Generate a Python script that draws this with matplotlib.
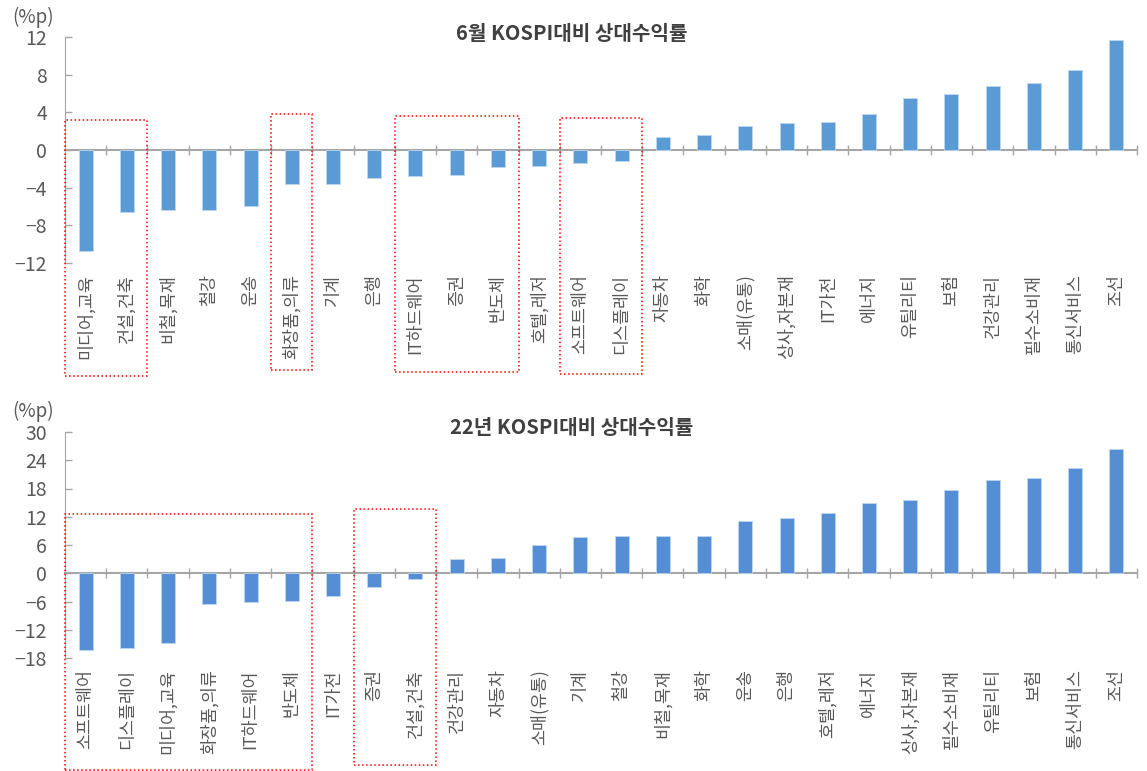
import matplotlib.pyplot as plt
from matplotlib.patches import Rectangle
from matplotlib.transforms import blended_transform_factory

plt.rcParams['font.family'] = ['Noto Sans CJK KR', 'DejaVu Sans']
plt.rcParams['axes.unicode_minus'] = True

# 6월 KOSPI 대비 상대수익률 (%p)
cats_jun = ['미디어,교육', '건설,건축', '비철,목재', '철강', '운송', '화장품,의류', '기계', '은행',
            'IT하드웨어', '증권', '반도체', '호텔,레저', '소프트웨어', '디스플레이', '자동차', '화학',
            '소매(유통)', '상사,자본재', 'IT가전', '에너지', '유틸리티', '보험', '건강관리',
            '필수소비재', '통신서비스', '조선']
vals_jun = [-10.7, -6.6, -6.4, -6.35, -5.9, -3.65, -3.65, -3.0, -2.8, -2.65, -1.8, -1.7, -1.4,
            -1.2, 1.35, 1.6, 2.5, 2.85, 3.0, 3.85, 5.5, 5.95, 6.8, 7.15, 8.45, 11.7]
yt_jun = [-12, -8, -4, 0, 4, 8, 12]

# 22년 KOSPI 대비 상대수익률 (%p)
cats_22 = ['소프트웨어', '디스플레이', '미디어,교육', '화장품,의류', 'IT하드웨어', '반도체', 'IT가전', '증권',
           '건설,건축', '건강관리', '자동차', '소매(유통)', '기계', '철강', '비철,목재', '화학', '운송',
           '은행', '호텔,레저', '에너지', '상사,자본재', '필수소비재', '유틸리티', '보험', '통신서비스', '조선']
vals_22 = [-16.4, -15.9, -14.9, -6.6, -6.1, -5.8, -4.9, -3.0, -1.3, 3.1, 3.2, 6.1, 7.8, 7.9,
           8.0, 8.0, 11.2, 11.7, 12.8, 15.0, 15.6, 17.6, 19.9, 20.3, 22.4, 26.4]
yt_22 = [-18, -12, -6, 0, 6, 12, 18, 24, 30]

# highlighted groups: (first idx, last idx, top px, bottom px)
boxes_jun = [(0, 1, 120, 376), (5, 5, 114, 370), (8, 10, 116, 372), (12, 13, 118, 374)]
boxes_22 = [(0, 5, 514, 770), (7, 8, 509, 765)]

W, H = 1147, 771
fig = plt.figure(figsize=(W / 100, H / 100), dpi=100)

gray = '#A6A6A6'
txt = '#595959'


def draw(rect, cats, vals, yticks, color, title, title_y, unit_y, boxes):
    ax = fig.add_axes(rect)
    n = len(cats)
    x = list(range(n))
    ax.bar(x, vals, width=0.34, color=color, edgecolor='#BDD7EE', linewidth=0.6, zorder=3)
    ax.set_xlim(-0.5, n - 0.5)
    ax.set_ylim(yticks[0], yticks[-1])
    ax.set_yticks(yticks)
    ax.set_yticklabels([str(t).replace('-', '\u2212') for t in yticks])
    ax.tick_params(axis='y', direction='in', length=5, width=1, color=gray,
                   labelsize=14, labelcolor=txt, pad=13)
    ax.set_xticks([i + 0.5 for i in range(n)])
    ax.set_xticklabels([])
    ax.tick_params(axis='x', direction='inout', length=7, width=1, color=gray)
    for s in ['top', 'right']:
        ax.spines[s].set_visible(False)
    ax.spines['left'].set_color(gray)
    ax.spines['bottom'].set_color(gray)
    ax.spines['bottom'].set_linewidth(1.5)
    ax.spines['bottom'].set_position(('data', 0))
    ax.patch.set_alpha(0)

    tr = blended_transform_factory(ax.transData, ax.transAxes)
    for i, c in enumerate(cats):
        ax.text(i, -0.05, c, rotation=90, ha='center', va='top', transform=tr,
                fontsize=12.5, color=txt)

    fig.text(572 / W, 1 - title_y / H, title, ha='center', va='center',
             fontsize=14.5, fontweight='bold', color='#404040')
    fig.text(33 / W, 1 - unit_y / H, '(%p)', ha='center', va='center',
             fontsize=13.5, color=txt)

    trb = blended_transform_factory(ax.transData, fig.transFigure)
    for a, b, top, bot in boxes:
        r = Rectangle((a - 0.5, 1 - bot / H), b - a + 1, (bot - top) / H,
                      transform=trb, fill=False, edgecolor='red', linestyle=':',
                      linewidth=1.1, clip_on=False, zorder=5)
        ax.add_patch(r)
    return ax


left = 65 / W
width = (1137 - 65) / W
draw([left, 1 - 263 / H, width, 226 / H], cats_jun, vals_jun, yt_jun, '#5B9BD5',
     '6월 KOSPI대비 상대수익률', 33, 17, boxes_jun)
draw([left, 1 - 658 / H, width, 226 / H], cats_22, vals_22, yt_22, '#558ED5',
     '22년 KOSPI대비 상대수익률', 428, 411, boxes_22)

fig.savefig('out.png', dpi=100)
